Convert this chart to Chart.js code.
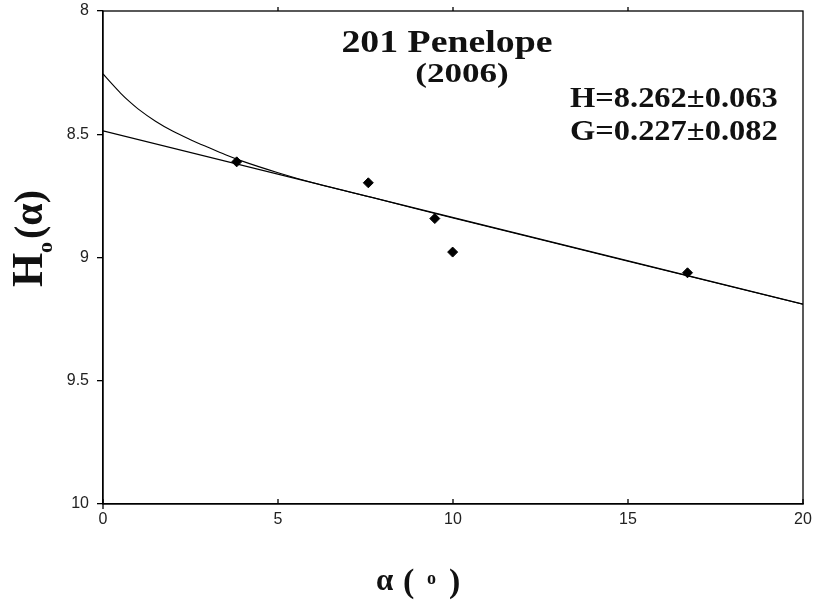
<!DOCTYPE html>
<html>
<head>
<meta charset="utf-8">
<script src="https://cdn.jsdelivr.net/npm/chart.js@4"></script>
<style>
    body { margin: 0; background: #fff; }
    #wrap { width: 813px; height: 606px; }
</style>
</head>
<body>
<div id="wrap"><canvas id="phaseChart" width="813" height="606"></canvas></div>
<script>
// observed reduced magnitudes
const obsAlpha = [3.82, 7.58, 9.48, 9.99, 16.70];
const obsH = [8.612, 8.697, 8.842, 8.978, 9.062];

// linear fit
const linAlpha = [0, 20];
const linH = [8.486, 9.189];

// H,G curve
const hgAlpha = [0, 0.25, 0.5, 0.75, 1, 1.5, 2, 2.5, 3, 3.5, 4, 5, 6, 8, 10, 12, 15, 20];
const hgH = [8.255, 8.295, 8.333, 8.367, 8.397, 8.447, 8.488, 8.522, 8.553, 8.583, 8.61, 8.656, 8.697, 8.768, 8.84, 8.91, 9.015, 9.19];

// axis ticks
const xTicks = [0, 5, 10, 15, 20];
const yTickValues = [8, 8.5, 9, 9.5, 10];
const yTickLabels = ['8', '8.5', '9', '9.5', '10'];

const titleText = '201 Penelope';
const yearText = '(2006)';
const paramH = 'H=8.262\u00b10.063';
const paramG = 'G=0.227\u00b10.082';

const toPoints = (xs, ys) => xs.map((x, i) => ({ x: x, y: ys[i] }));

// draw text with a horizontal stretch
function stretchText(ctx, text, x, y, font, align, sx) {
    ctx.save();
    ctx.font = font;
    ctx.textAlign = align;
    ctx.textBaseline = 'alphabetic';
    ctx.translate(x, y);
    ctx.scale(sx, 1);
    ctx.fillText(text, 0, 0);
    ctx.restore();
}

const framePlugin = {
    id: 'frame',
    afterDraw(chart) {
        const ctx = chart.ctx;
        const a = chart.chartArea;
        const xs = chart.scales.x;
        ctx.save();
        ctx.strokeStyle = '#000';
        ctx.lineWidth = 1.3;
        ctx.strokeRect(a.left, a.top, a.right - a.left, a.bottom - a.top);
        // x tick marks: inward at the bottom, outward at the top
        ctx.beginPath();
        xTicks.forEach(v => {
            const px = xs.getPixelForValue(v);
            ctx.moveTo(px, a.bottom + (v === 0 ? 5 : 0));
            ctx.lineTo(px, a.bottom - 5);
            if (v > 0 && v < 20) {
                ctx.moveTo(px, a.top);
                ctx.lineTo(px, a.top - 4);
            }
        });
        ctx.stroke();

        ctx.fillStyle = '#111';
        const serif = '"Liberation Serif", "Times New Roman", serif';
        stretchText(ctx, titleText, 447, 52, 'bold 31px ' + serif, 'center', 1.22);
        stretchText(ctx, yearText, 462, 82, 'bold 27px ' + serif, 'center', 1.3);
        stretchText(ctx, paramH, 570, 107, 'bold 29px ' + serif, 'left', 1.12);
        stretchText(ctx, paramG, 570, 140, 'bold 29px ' + serif, 'left', 1.12);

        // x axis title: alpha (deg)
        ctx.textAlign = 'left';
        ctx.font = 'bold 31px ' + serif;
        ctx.fillText('\u03b1', 376, 590);
        ctx.font = 'bold 34px ' + serif;
        ctx.fillText('(', 403, 592);
        ctx.fillText(')', 449, 592);
        ctx.font = 'bold 18px ' + serif;
        ctx.fillText('o', 427, 584);

        // y axis title: H0(alpha), rotated
        ctx.save();
        ctx.translate(42, 287);
        ctx.rotate(-Math.PI / 2);
        ctx.textAlign = 'left';
        ctx.font = 'bold 44px ' + serif;
        ctx.fillText('H', 0, 0);
        ctx.font = 'bold 22px ' + serif;
        ctx.fillText('o', 34, 10);
        ctx.font = 'bold 40px ' + serif;
        ctx.fillText('(\u03b1)', 48, 0);
        ctx.restore();

        ctx.restore();
    }
};

const ctx = document.getElementById('phaseChart').getContext('2d');
const phaseChart = new Chart(ctx, {
    type: 'scatter',
    data: {
        datasets: [{
            label: 'observations',
            data: toPoints(obsAlpha, obsH),
            pointStyle: 'rectRot',
            pointRadius: 5,
            backgroundColor: '#000',
            borderColor: '#000',
            order: 0
        }, {
            label: 'linear',
            data: toPoints(linAlpha, linH),
            showLine: true,
            pointRadius: 0,
            borderColor: '#000',
            borderWidth: 1.3,
            order: 1
        }, {
            label: 'HG',
            data: toPoints(hgAlpha, hgH),
            showLine: true,
            pointRadius: 0,
            borderColor: '#000',
            borderWidth: 1.1,
            cubicInterpolationMode: 'monotone',
            order: 1
        }]
    },
    options: {
        responsive: false,
        animation: false,
        layout: {
            padding: { top: 11, right: 10, left: 0, bottom: 0 }
        },
        plugins: {
            legend: { display: false },
            tooltip: { enabled: false }
        },
        scales: {
            x: {
                type: 'linear',
                min: 0,
                max: 20,
                afterFit: s => {
                    s.height = 102;
                    s.paddingLeft = 0;
                    s.paddingRight = 0;
                },
                ticks: {
                    stepSize: 5,
                    color: '#222',
                    padding: 6,
                    font: { family: '"Liberation Sans", Arial, sans-serif', size: 16 }
                },
                grid: { drawOnChartArea: false, drawTicks: false },
                border: { color: '#000', width: 1.3 }
            },
            y: {
                type: 'linear',
                reverse: true,
                min: 8,
                max: 10,
                afterFit: s => {
                    s.width = 103;
                    s.paddingTop = 0;
                    s.paddingBottom = 0;
                },
                ticks: {
                    stepSize: 0.5,
                    color: '#222',
                    padding: 8,
                    font: { family: '"Liberation Sans", Arial, sans-serif', size: 16 },
                    callback: v => yTickLabels[yTickValues.indexOf(v)]
                },
                grid: { drawOnChartArea: false, tickLength: 6, color: '#000', lineWidth: 1.3 },
                border: { color: '#000', width: 1.3 }
            }
        }
    },
    plugins: [framePlugin]
});
</script>
</body>
</html>
